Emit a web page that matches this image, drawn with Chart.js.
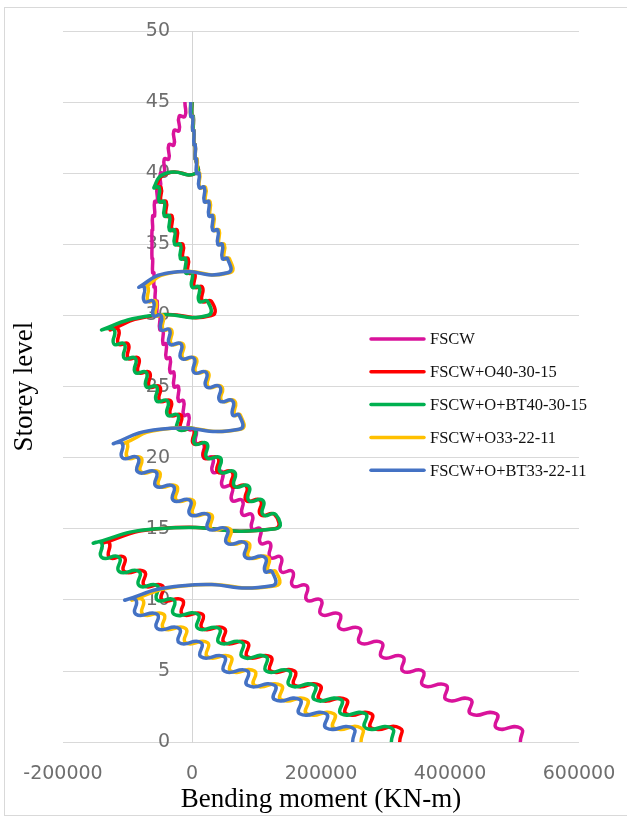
<!DOCTYPE html>
<html>
<head>
<meta charset="utf-8">
<script src="https://cdn.jsdelivr.net/npm/chart.js@4.4.0/dist/chart.umd.min.js"></script>
<style>
  html, body { margin: 0; padding: 0; background: #fff; overflow: hidden; }
  #frame { position: absolute; left: 4px; top: 7px; width: 623px; height: 809px; border: 1px solid #d9d9d9; border-right: none; box-sizing: border-box; }
  #chart { position: absolute; left: 0; top: 0; }
</style>
</head>
<body>
<div id="frame"></div>
<canvas id="chart" width="627" height="817"></canvas>
<script>
// storey levels: each storey has a bottom and a top reading
const storeyBottom = [0, 1, 2, 3, 4, 5, 6, 7, 8, 9, 10, 11, 12, 13, 14, 15, 16, 17, 18, 19, 20, 21,
  22, 23, 24, 25, 26, 27, 28, 29, 30, 31, 32, 33, 34, 35, 36, 37, 38, 39, 40, 41, 42, 43, 44];
const storeyTop = [1, 2, 3, 4, 5, 6, 7, 8, 9, 10, 11, 12, 13, 14, 15, 16, 17, 18, 19, 20, 21, 22,
  23, 24, 25, 26, 27, 28, 29, 30, 31, 32, 33, 34, 35, 36, 37, 38, 39, 40, 41, 42, 43, 44, 45];

const xTicks = [-200000, 0, 200000, 400000, 600000];
const yTicks = [0, 5, 10, 15, 20, 25, 30, 35, 40, 45, 50];

const seriesNames = ['FSCW', 'FSCW+O40-30-15', 'FSCW+O+BT40-30-15', 'FSCW+O33-22-11', 'FSCW+O+BT33-22-11'];
const seriesColors = ['#d9139b', '#ff0000', '#00b050', '#ffc000', '#4472c4'];

// bending moment (KN-m), storey 1 .. 45
const fscw = [509000, 472000, 432000, 394000, 358000, 327000, 294000, 260000, 229000, 200000,
  178000, 156000, 138000, 121000, 106000, 93000, 78000, 62000, 47000, 32000,
  18000, 6000, -5000, -13000, -21000, -28000, -34000, -40000, -45000, -50000,
  -54000, -57000, -59000, -61000, -62000, -62000, -61000, -58000, -54000, -49000,
  -43000, -36000, -28000, -20000, -11000];

const o40Bottom = [322000, 278000, 239000, 198000, 159000, 122000, 86000, 50000, 16000, -15000,
  -46000, -74000, -105000, -128000, -138000, 128000, 106000, 84000, 62000, 40000,
  19000, 2000, -17000, -33000, -50000, -66000, -83000, -99000, -114000, -126000,
  30000, 16000, 4000, -6000, -14000, -23000, -31000, -40000, -48000, -56000,
  6000, 5000, 3000, 2000, 0];
const o40Top = [322000, 278000, 239000, 198000, 159000, 122000, 86000, 50000, 16000, -15000,
  -46000, -74000, -105000, -128000, -52000, 128000, 106000, 84000, 62000, 40000,
  19000, 2000, -17000, -33000, -50000, -66000, -83000, -99000, -114000, -58000,
  30000, 16000, 4000, -6000, -14000, -23000, -31000, -40000, -48000, -38000,
  6000, 5000, 3000, 2000, 0];

const obt40Bottom = [309000, 269000, 231000, 190000, 151000, 115000, 78000, 42000, 9000, -28000,
  -54000, -82000, -113000, -140000, -152000, 130000, 110000, 88000, 66000, 44000,
  23000, 4000, -22000, -38000, -55000, -71000, -88000, -105000, -121000, -139000,
  24000, 11000, 0, -10000, -18000, -27000, -35000, -43000, -51000, -59000,
  6000, 5000, 3000, 2000, 0];
const obt40Top = [309000, 269000, 231000, 190000, 151000, 115000, 78000, 42000, 9000, -28000,
  -54000, -82000, -113000, -140000, -55000, 130000, 110000, 88000, 66000, 44000,
  23000, 4000, -22000, -38000, -55000, -71000, -88000, -105000, -121000, -62000,
  24000, 11000, 0, -10000, -18000, -27000, -35000, -43000, -51000, -40000,
  6000, 5000, 3000, 2000, 0];

const o33Bottom = [262000, 220000, 178000, 138000, 97000, 60000, 24000, -10000, -44000, -76000,
  -92000, 130000, 118000, 88000, 59000, 30000, 2000, -24000, -51000, -79000,
  -100000, -106000, 75000, 66000, 46000, 25000, 6000, -14000, -32000, -45000,
  -56000, -68000, -73000, 58000, 50000, 42000, 34000, 28000, 21000, 12000,
  8000, 5000, 3000, 1000, -2000];
const o33Top = [262000, 220000, 178000, 138000, 97000, 60000, 24000, -10000, -44000, -76000,
  -10000, 130000, 118000, 88000, 59000, 30000, 2000, -24000, -51000, -79000,
  -100000, -45000, 75000, 66000, 46000, 25000, 6000, -14000, -32000, -45000,
  -56000, -68000, -32000, 58000, 50000, 42000, 34000, 28000, 21000, 12000,
  8000, 5000, 3000, 1000, -2000];

const obt33Bottom = [249000, 208000, 167000, 128000, 86000, 50000, 14000, -20000, -54000, -87000,
  -103000, 124000, 113000, 83000, 54000, 25000, -3000, -29000, -56000, -84000,
  -108000, -121000, 73000, 63000, 43000, 22000, 3000, -17000, -35000, -48000,
  -60000, -74000, -82000, 55000, 47000, 40000, 32000, 26000, 19000, 11000,
  7000, 5000, 3000, 1000, -2000];
const obt33Top = [249000, 208000, 167000, 128000, 86000, 50000, 14000, -20000, -54000, -87000,
  -15000, 124000, 113000, 83000, 54000, 25000, -3000, -29000, -56000, -84000,
  -108000, -50000, 73000, 63000, 43000, 22000, 3000, -17000, -35000, -48000,
  -60000, -74000, -35000, 55000, 47000, 40000, 32000, 26000, 19000, 11000,
  7000, 5000, 3000, 1000, -2000];

const xTitle = 'Bending moment (KN-m)';
const yTitle = 'Storey level';

// bottom/top readings of every storey -> one point list per series
function stairs(bottom, top) {
  const pts = [];
  for (let i = 0; i < bottom.length; i++) {
    pts.push({ x: bottom[i], y: storeyBottom[i] });
    pts.push({ x: top[i], y: storeyTop[i] });
  }
  return pts;
}

const seriesPoints = [
  stairs(fscw, fscw),
  stairs(o40Bottom, o40Top),
  stairs(obt40Bottom, obt40Top),
  stairs(o33Bottom, o33Top),
  stairs(obt33Bottom, obt33Top)
];

const datasets = seriesPoints.map((pts, i) => ({
  label: seriesNames[i],
  data: pts,
  showLine: true,
  borderColor: seriesColors[i],
  backgroundColor: seriesColors[i],
  borderWidth: 3.5,
  pointRadius: 0,
  tension: 0.6,
  fill: false,
  order: seriesNames.length - i   // later series drawn on top, like Excel
}));

const tickFont = { family: '"DejaVu Sans", sans-serif', size: 19 };
const tickColor = '#6e6e6e';

// y labels hang next to the vertical axis at x = 0, under the lines
const yLabels = {
  id: 'yLabels',
  beforeDatasetsDraw(chart) {
    const { ctx, scales } = chart;
    const axisX = scales.x.getPixelForValue(0);
    ctx.save();
    ctx.fillStyle = tickColor;
    ctx.font = tickFont.size + 'px ' + tickFont.family;
    ctx.textAlign = 'right';
    ctx.textBaseline = 'middle';
    yTicks.forEach(v => ctx.fillText(String(v), axisX - 22, scales.y.getPixelForValue(v)));
    ctx.restore();
  }
};

// axis titles and the legend sit where Excel put them
const extras = {
  id: 'extras',
  afterDraw(chart) {
    const { ctx, chartArea } = chart;
    ctx.save();
    ctx.fillStyle = '#000';
    ctx.textAlign = 'center';
    ctx.textBaseline = 'middle';
    ctx.font = '27px "Liberation Serif", "Times New Roman", serif';
    ctx.fillText(xTitle, (chartArea.left + chartArea.right) / 2, 800);
    ctx.save();
    ctx.translate(25, (chartArea.top + chartArea.bottom) / 2);
    ctx.rotate(-Math.PI / 2);
    ctx.fillText(yTitle, 0, 0);
    ctx.restore();

    ctx.font = '16.5px "Liberation Serif", "Times New Roman", serif';
    ctx.textAlign = 'left';
    ctx.lineCap = 'round';
    seriesNames.forEach((name, i) => {
      const y = 339 + i * 32.8;
      ctx.strokeStyle = seriesColors[i];
      ctx.lineWidth = 3.5;
      ctx.beginPath();
      ctx.moveTo(371, y);
      ctx.lineTo(424, y);
      ctx.stroke();
      ctx.fillStyle = '#111';
      ctx.fillText(name, 430, y + 1);
    });
    ctx.restore();
  }
};

new Chart(document.getElementById('chart'), {
  type: 'scatter',
  data: { datasets: datasets },
  options: {
    responsive: false,
    animation: false,
    devicePixelRatio: 1,
    layout: { padding: { left: 63, right: 48, top: 31, bottom: 30 } },
    plugins: { legend: { display: false }, tooltip: { enabled: false } },
    scales: {
      x: {
        type: 'linear',
        min: xTicks[0],
        max: xTicks[xTicks.length - 1],
        afterBuildTicks: (scale) => { scale.ticks = xTicks.map(v => ({ value: v })); },
        grid: { display: false, drawTicks: true, tickLength: 18 },
        border: { display: false },
        ticks: { color: tickColor, font: tickFont, padding: 2, maxRotation: 0, callback: (v) => String(v) }
      },
      y: {
        type: 'linear',
        position: { x: 0 },
        min: yTicks[0],
        max: yTicks[yTicks.length - 1],
        afterBuildTicks: (scale) => { scale.ticks = yTicks.map(v => ({ value: v })); },
        grid: { color: '#d9d9d9', lineWidth: 1, drawTicks: false },
        border: { display: true, color: '#d4d4d4', width: 1 },
        ticks: { display: false }
      }
    }
  },
  plugins: [yLabels, extras]
});
</script>
</body>
</html>
